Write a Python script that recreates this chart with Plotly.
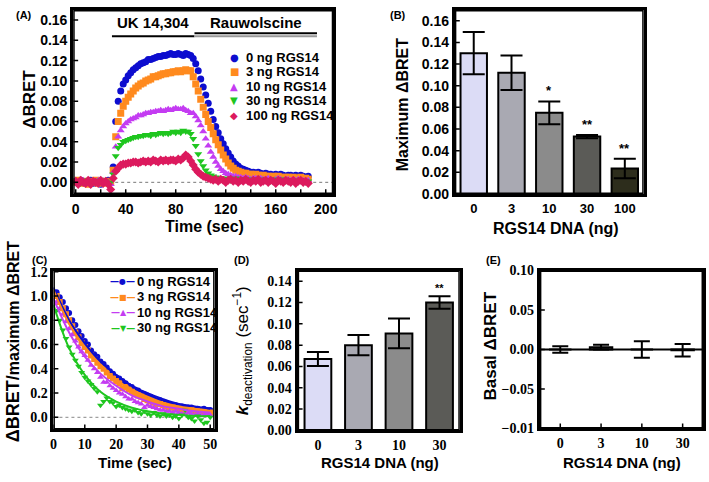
import plotly.graph_objects as go

W, H = 709, 482
def px(x):
    return x / W
def py(y):
    return 1 - y / H

SANS = "Liberation Sans, Arial, sans-serif"
SERIF = "Liberation Serif, Times New Roman, serif"
SYMF = "DejaVu Sans, sans-serif"

BLUE = "#0d0dcf"
ORANGE = "#ff8a1e"
PURPLE = "#c43cf2"
GREEN = "#1fc61f"
RED = "#dc1a5e"

# ---------------- Panel A : ΔBRET time course (every 2 s) ----------------
time_A = list(range(0, 188, 2))
a_0ng = [0.001,-0.001,0.002,0.000,-0.001,0.001,0.002,-0.001,0.000,0.001,-0.002,0.001,0.000,0.002,0.001,
         0.015,0.060,0.080,0.090,0.097,0.101,0.105,0.108,0.111,0.113,0.115,0.117,0.118,0.119,0.121,0.121,
         0.122,0.123,0.124,0.124,0.125,0.125,0.126,0.127,0.126,0.126,0.127,0.126,0.125,0.127,0.126,0.125,
         0.122,0.117,0.110,0.102,0.094,0.086,0.078,0.070,0.062,0.055,0.049,0.043,0.038,0.033,0.029,0.025,
         0.021,0.018,0.016,0.014,0.013,0.012,0.011,0.010,0.010,0.009,0.010,0.009,0.008,0.009,0.008,0.008,
         0.007,0.008,0.007,0.008,0.007,0.006,0.007,0.007,0.006,0.007,0.006,0.007,0.006,0.005,0.006]
a_3ng = [0.000,0.002,-0.001,0.001,0.000,-0.002,0.001,0.000,0.002,-0.001,0.001,0.000,-0.001,0.001,0.000,
         0.012,0.045,0.060,0.068,0.075,0.080,0.084,0.087,0.090,0.093,0.095,0.097,0.098,0.100,0.101,0.102,
         0.104,0.104,0.105,0.106,0.107,0.107,0.108,0.108,0.109,0.109,0.110,0.109,0.110,0.111,0.110,0.110,
         0.104,0.097,0.090,0.082,0.074,0.067,0.060,0.054,0.048,0.042,0.037,0.032,0.027,0.023,0.019,0.016,
         0.014,0.012,0.011,0.010,0.009,0.009,0.008,0.008,0.007,0.008,0.007,0.006,0.007,0.006,0.006,0.005,
         0.006,0.005,0.006,0.005,0.004,0.005,0.005,0.004,0.005,0.004,0.004,0.005,0.003,0.004,0.003]
a_10ng = [0.001,0.000,-0.001,0.002,0.000,0.001,-0.001,0.000,0.001,0.002,0.000,-0.001,0.001,0.000,-0.002,
          0.010,0.035,0.045,0.051,0.055,0.058,0.060,0.062,0.063,0.064,0.066,0.066,0.067,0.068,0.068,0.069,
          0.069,0.070,0.070,0.071,0.070,0.071,0.072,0.071,0.072,0.073,0.072,0.072,0.073,0.071,0.070,0.068,
          0.068,0.065,0.061,0.056,0.050,0.043,0.036,0.030,0.025,0.020,0.016,0.013,0.011,0.009,0.008,0.007,
          0.006,0.006,0.005,0.005,0.004,0.005,0.004,0.003,0.004,0.004,0.003,0.004,0.003,0.003,0.004,0.003,
          0.002,0.003,0.004,0.003,0.002,0.003,0.003,0.002,0.003,0.002,0.003,0.002,0.002,0.001,0.002]
a_30ng = [0.000,0.001,-0.001,0.002,0.001,0.000,-0.001,0.001,0.000,-0.001,0.002,0.000,0.001,-0.001,0.000,
          0.008,0.026,0.034,0.037,0.040,0.041,0.042,0.043,0.044,0.045,0.045,0.046,0.046,0.047,0.047,0.046,
          0.048,0.047,0.048,0.049,0.048,0.049,0.048,0.049,0.050,0.049,0.050,0.049,0.051,0.050,0.050,0.048,
          0.043,0.036,0.028,0.021,0.016,0.012,0.009,0.007,0.006,0.005,0.004,0.004,0.003,0.004,0.003,0.002,
          0.003,0.004,0.002,0.003,0.002,0.003,0.001,0.003,0.002,0.003,0.002,0.001,0.003,0.002,0.002,0.001,
          0.003,0.002,0.001,0.002,0.003,0.001,0.002,0.002,0.001,0.002,0.001,0.002,0.001,0.000,0.001]
a_100ng = [0.001,-0.002,0.002,0.000,-0.001,0.002,-0.002,0.001,0.000,-0.001,0.002,-0.001,0.001,-0.002,-0.007,
           0.004,0.011,0.014,0.017,0.018,0.018,0.019,0.019,0.020,0.020,0.019,0.020,0.021,0.020,0.021,0.020,
           0.022,0.021,0.020,0.022,0.021,0.022,0.021,0.022,0.022,0.021,0.023,0.022,0.024,0.027,0.025,0.021,
           0.017,0.013,0.010,0.008,0.006,0.005,0.004,0.003,0.002,0.003,0.001,0.003,0.002,0.000,0.002,0.003,
           0.001,0.002,0.000,0.002,0.001,0.003,0.001,0.000,0.002,0.001,0.003,0.000,0.001,0.002,0.000,0.002,
           0.001,-0.001,0.002,0.001,0.000,0.002,0.001,0.000,0.002,-0.001,0.001,0.002,0.000,0.001,-0.001]
names_A = ["0 ng RGS14", "3 ng RGS14", "10 ng RGS14", "30 ng RGS14", "100 ng RGS14"]
labels_A_x = [0, 40, 80, 120, 160, 200]
ticks_A_x = [0, 20, 40, 60, 80, 100, 120, 140, 160, 180, 200]
ticks_A_y = [0, 0.02, 0.04, 0.06, 0.08, 0.10, 0.12, 0.14, 0.16]
treat_labels = ["UK 14,304", "Rauwolscine"]
treat_start = [29, 95]
treat_end = [95, 193]
treat_level = 0.144

# ---------------- Panel B : maximum ΔBRET ----------------
dna_B = ["0", "3", "10", "30", "100"]
max_bret = [0.130, 0.112, 0.075, 0.053, 0.0235]
max_bret_err = [0.0195, 0.016, 0.0105, 0.0015, 0.009]
sig_B = ["", "", "*", "**", "**"]
ticks_B_y = [0, 0.02, 0.04, 0.06, 0.08, 0.10, 0.12, 0.14, 0.16]

# ---------------- Panel C : normalized deactivation ----------------
time_C = list(range(1, 51))
c_0ng = [1.03,0.99,0.95,0.90,0.86,0.80,0.76,0.71,0.67,0.63,0.60,0.55,0.52,0.50,0.46,0.44,0.41,0.38,0.36,0.33,
         0.32,0.30,0.28,0.26,0.25,0.23,0.22,0.20,0.19,0.18,0.17,0.15,0.14,0.14,0.12,0.12,0.11,0.10,0.10,0.09,
         0.09,0.08,0.08,0.08,0.07,0.07,0.06,0.07,0.06,0.06]
c_3ng = [1.00,0.95,0.90,0.85,0.80,0.75,0.70,0.66,0.61,0.58,0.55,0.51,0.48,0.45,0.42,0.40,0.37,0.34,0.32,0.30,
         0.28,0.24,0.25,0.23,0.21,0.19,0.18,0.17,0.15,0.14,0.13,0.12,0.11,0.11,0.10,0.09,0.08,0.08,0.07,0.07,
         0.06,0.06,0.05,0.06,0.05,0.05,0.04,0.05,0.04,0.04]
c_10ng = [0.95,0.90,0.85,0.79,0.73,0.68,0.63,0.58,0.54,0.51,0.47,0.43,0.40,0.37,0.33,0.29,0.29,0.26,0.24,0.22,
          0.20,0.19,0.17,0.15,0.15,0.13,0.12,0.11,0.08,0.10,0.09,0.08,0.07,0.06,0.06,0.05,0.05,0.04,0.05,0.04,
          0.03,0.03,0.04,0.03,0.02,0.03,0.02,0.02,0.03,0.02]
c_30ng = [0.88,0.80,0.72,0.65,0.58,0.52,0.47,0.42,0.37,0.33,0.30,0.27,0.24,0.21,0.10,0.13,0.16,0.13,0.12,0.09,
          0.10,0.08,0.07,0.06,0.05,0.06,0.04,0.03,0.05,0.03,0.02,0.04,0.02,0.01,0.03,0.01,0.02,0.00,0.01,-0.01,
          0.02,0.06,0.00,-0.01,-0.03,0.01,-0.02,-0.05,-0.04,0.00]
time_fit = [0, 5, 10, 15, 20, 25, 30, 35, 40, 45, 50]
fit_0ng = [1.07, 0.80, 0.61, 0.46, 0.35, 0.26, 0.20, 0.15, 0.11, 0.09, 0.07]
fit_3ng = [1.05, 0.77, 0.57, 0.42, 0.31, 0.23, 0.17, 0.12, 0.09, 0.07, 0.05]
fit_10ng = [0.98, 0.70, 0.50, 0.36, 0.26, 0.18, 0.13, 0.09, 0.07, 0.05, 0.04]
fit_30ng = [0.93, 0.57, 0.35, 0.21, 0.13, 0.08, 0.05, 0.03, 0.02, 0.01, 0.01]
names_C = ["0 ng RGS14", "3 ng RGS14", "10 ng RGS14", "30 ng RGS14"]
ticks_C_x = [0, 10, 20, 30, 40, 50]
ticks_C_y = [0, 0.2, 0.4, 0.6, 0.8, 1.0, 1.2]

# ---------------- Panel D : k deactivation ----------------
dna_D = ["0", "3", "10", "30"]
k_deact = [0.067, 0.080, 0.091, 0.120]
k_deact_err = [0.0065, 0.0095, 0.014, 0.0058]
sig_D = ["", "", "", "**"]
ticks_D_y = [0, 0.02, 0.04, 0.06, 0.08, 0.10, 0.12, 0.14]

# ---------------- Panel E : basal ΔBRET ----------------
dna_E = ["0", "3", "10", "30"]
basal = [0.000, 0.003, 0.000, -0.001]
basal_err = [0.004, 0.003, 0.0105, 0.008]
ticks_E_y = [0.10, 0.05, 0.00, -0.05, -0.10]
ticktext_E_y = ["0.10", "0.05", "0.00", "\u22120.05", "\u22120.01"]

bar_colors = ["#dcdcf6", "#a9a9b2", "#8b8b8b", "#5b5b57", "#2d2d1c"]

# panel boxes in page pixels (left, right, top, bottom) and axis ranges
box_A = (70, 333, 3, 193)
box_B = (456, 647, 3, 193)
box_C = (50, 213, 272, 436)
box_D = (297, 461, 272, 437)
box_E = (542, 707, 272, 435)
xr_A, yr_A = [-2, 206], [-0.0115, 0.17]
xr_B, yr_B = [-0.5, 4.5], [0, 0.17]
xr_C, yr_C = [0, 51.4], [-0.1, 1.21]
xr_D, yr_D = [-0.5, 3.5], [0, 0.15]
xr_E, yr_E = [-0.5, 3.5], [-0.1, 0.1]

fig = go.Figure()

colors_A = [BLUE, ORANGE, PURPLE, GREEN, RED]
symbols_A = ["circle", "square", "triangle-up", "triangle-down", "diamond"]
glyphs_A = ["\u25cf", "\u25a0", "\u25b2", "\u25bc", "\u25c6"]
for nm, vals, sym, col in zip(names_A, [a_0ng, a_3ng, a_10ng, a_30ng, a_100ng], symbols_A, colors_A):
    fig.add_trace(go.Scatter(x=time_A, y=vals, mode="markers", name=nm, showlegend=False,
                             marker=dict(symbol=sym, size=7, color=col, line=dict(width=0)),
                             xaxis="x", yaxis="y"))

fig.add_trace(go.Bar(x=list(range(len(dna_B))), y=max_bret, width=0.7,
                     marker=dict(color=bar_colors, line=dict(color="black", width=2)),
                     error_y=dict(type="data", array=max_bret_err, color="black", thickness=2, width=11),
                     xaxis="x2", yaxis="y2", showlegend=False))

colors_C = [BLUE, ORANGE, PURPLE, GREEN]
symbols_C = ["circle", "square", "triangle-up", "triangle-down"]
glyphs_C = ["\u25cf", "\u25a0", "\u25b2", "\u25bc"]
for nm, pts, sym, col in zip(names_C, [c_0ng, c_3ng, c_10ng, c_30ng], symbols_C, colors_C):
    fig.add_trace(go.Scatter(x=time_C, y=pts, mode="markers", name=nm, showlegend=False,
                             marker=dict(symbol=sym, size=6, color=col, line=dict(width=0)),
                             xaxis="x3", yaxis="y3"))
for nm, fit, col in zip(names_C, [fit_0ng, fit_3ng, fit_10ng, fit_30ng], colors_C):
    fig.add_trace(go.Scatter(x=time_fit, y=fit, mode="lines", name=nm + " fit", showlegend=False,
                             line=dict(color=col, width=2, shape="spline"),
                             xaxis="x3", yaxis="y3"))

fig.add_trace(go.Bar(x=list(range(len(dna_D))), y=k_deact, width=0.66,
                     marker=dict(color=bar_colors[:4], line=dict(color="black", width=2)),
                     error_y=dict(type="data", array=k_deact_err, color="black", thickness=2, width=11),
                     xaxis="x4", yaxis="y4", showlegend=False))

fig.add_trace(go.Bar(x=list(range(len(dna_E))), y=basal, width=0.55,
                     marker=dict(color=bar_colors[:4], line=dict(color="black", width=2)),
                     error_y=dict(type="data", array=basal_err, color="black", thickness=2, width=8),
                     xaxis="x5", yaxis="y5", showlegend=False))

# frames and inside tick marks drawn as line traces derived from the axis ranges and tick lists
def frame_and_ticks(xa, ya, box, xr, yr, xt, yt):
    dx = 5 * (xr[1] - xr[0]) / (box[1] - box[0])
    dy = 5 * (yr[1] - yr[0]) / (box[3] - box[2])
    tx, ty = [], []
    for v in yt:
        tx += [xr[0], xr[0] + dx, None]
        ty += [v, v, None]
    for v in xt:
        tx += [v, v, None]
        ty += [yr[0], yr[0] + dy, None]
    if tx:
        fig.add_trace(go.Scatter(x=tx, y=ty, mode="lines", line=dict(color="black", width=1.5),
                                 hoverinfo="skip", showlegend=False, cliponaxis=False,
                                 xaxis=xa, yaxis=ya))
    fig.add_trace(go.Scatter(x=[xr[0], xr[1], xr[1], xr[0], xr[0]],
                             y=[yr[0], yr[0], yr[1], yr[1], yr[0]],
                             mode="lines", line=dict(color="black", width=3),
                             hoverinfo="skip", showlegend=False, cliponaxis=False,
                             xaxis=xa, yaxis=ya))

frame_and_ticks("x", "y", box_A, xr_A, yr_A, ticks_A_x, ticks_A_y)
frame_and_ticks("x2", "y2", box_B, xr_B, yr_B, [], ticks_B_y)
frame_and_ticks("x3", "y3", box_C, xr_C, yr_C, ticks_C_x, ticks_C_y)
frame_and_ticks("x4", "y4", box_D, xr_D, yr_D, [], ticks_D_y)
frame_and_ticks("x5", "y5", box_E, xr_E, yr_E, list(range(len(dna_E))), ticks_E_y)

def axis(**kw):
    base = dict(showline=True, linecolor="#000000", linewidth=3, mirror=True, showgrid=False,
                zeroline=False, ticks="", ticklen=5, tickwidth=2, tickcolor="#000000")
    base.update(kw)
    return base

tf_sans = dict(family=SANS, size=14, color="black", weight="bold")
tf_sans_small = dict(family=SANS, size=13, color="black", weight="bold")
tf_serif = dict(family=SERIF, size=14, color="black", weight="bold")

def dom_x(b):
    return [px(b[0]), px(b[1])]
def dom_y(b):
    return [py(b[3]), py(b[2])]

fig.update_layout(
    width=W, height=H, margin=dict(l=0, r=0, t=0, b=0),
    paper_bgcolor="white", plot_bgcolor="white",
    font=dict(family=SANS, color="black"),
    showlegend=False,
    xaxis=axis(domain=dom_x(box_A), anchor="y", range=xr_A, tickvals=labels_A_x, tickfont=tf_sans),
    yaxis=axis(domain=dom_y(box_A), anchor="x", range=yr_A,
               tickvals=ticks_A_y, tickformat=".2f", tickfont=tf_sans),
    xaxis2=axis(domain=dom_x(box_B), anchor="y2", tickfont=tf_sans_small,
                range=xr_B, tickvals=list(range(len(dna_B))), ticktext=dna_B),
    yaxis2=axis(domain=dom_y(box_B), anchor="x2", range=yr_B,
                tickvals=ticks_B_y, tickformat=".2f", tickfont=tf_sans),
    xaxis3=axis(domain=dom_x(box_C), anchor="y3", range=xr_C, tickvals=ticks_C_x, tickfont=tf_serif),
    yaxis3=axis(domain=dom_y(box_C), anchor="x3", range=yr_C,
                tickvals=ticks_C_y, tickformat=".1f", tickfont=tf_serif),
    xaxis4=axis(domain=dom_x(box_D), anchor="y4", tickfont=tf_serif,
                range=xr_D, tickvals=list(range(len(dna_D))), ticktext=dna_D),
    yaxis4=axis(domain=dom_y(box_D), anchor="x4", range=yr_D,
                tickvals=ticks_D_y, tickformat=".2f", tickfont=tf_serif),
    xaxis5=axis(domain=dom_x(box_E), anchor="y5", tickfont=tf_serif, range=xr_E,
                tickvals=list(range(len(dna_E))), ticktext=dna_E),
    yaxis5=axis(domain=dom_y(box_E), anchor="x5", range=yr_E,
                tickvals=ticks_E_y, ticktext=ticktext_E_y, tickfont=tf_serif),
)

shapes = []
shapes.append(dict(type="line", xref="x domain", yref="y", x0=0, x1=1, y0=0, y1=0,
                   line=dict(color="#777777", width=1, dash="dot"), layer="below"))
shapes.append(dict(type="line", xref="x3 domain", yref="y3", x0=0, x1=1, y0=0, y1=0,
                   line=dict(color="#888888", width=1, dash="dot"), layer="below"))
shapes.append(dict(type="line", xref="x5 domain", yref="y5", x0=0, x1=1, y0=0, y1=0,
                   line=dict(color="black", width=2)))
shapes.append(dict(type="line", xref="x", yref="y", x0=treat_start[0], x1=treat_end[0],
                   y0=treat_level, y1=treat_level, line=dict(color="black", width=2)))
shapes.append(dict(type="line", xref="x", yref="y", x0=treat_start[1], x1=treat_end[1],
                   y0=treat_level + 0.003, y1=treat_level + 0.003, line=dict(color="black", width=2)))
shapes.append(dict(type="line", xref="x", yref="y", x0=treat_start[1], x1=treat_end[1],
                   y0=treat_level, y1=treat_level, line=dict(color="#999999", width=2)))
fig.update_layout(shapes=shapes)

ann = []
def paper_text(text, x, y, size, angle=0, weight="bold", family=SANS, xanchor="center", color="black"):
    ann.append(dict(text=text, x=px(x), y=py(y), xref="paper", yref="paper", showarrow=False,
                    xanchor=xanchor, yanchor="middle", textangle=angle,
                    font=dict(family=family, size=size, color=color, weight=weight)))

for lab, s, e in zip(treat_labels, treat_start, treat_end):
    ann.append(dict(text=lab, x=(s + e) / 2, y=treat_level + 0.003, xref="x", yref="y",
                    showarrow=False, yanchor="bottom",
                    font=dict(family=SANS, size=15, color="black", weight="bold")))

for i, (v, e, s) in enumerate(zip(max_bret, max_bret_err, sig_B)):
    if s:
        ann.append(dict(text=s, x=i, y=v + e, xref="x2", yref="y2", showarrow=False,
                        yanchor="bottom", yshift=1,
                        font=dict(family=SANS, size=13, color="black", weight="bold")))
for i, (v, e, s) in enumerate(zip(k_deact, k_deact_err, sig_D)):
    if s:
        ann.append(dict(text=s, x=i, y=v + e, xref="x4", yref="y4", showarrow=False,
                        yanchor="bottom", yshift=0,
                        font=dict(family=SANS, size=11, color="black", weight="bold")))

legA_rows = [52, 67, 82, 97, 112]
for nm, g, col, yy in zip(names_A, glyphs_A, colors_A, legA_rows):
    paper_text(g, 233, yy, 10, weight="normal", family=SYMF, color=col)
    paper_text(nm, 243, yy, 13, xanchor="left")
legC_rows = [283, 299, 315, 331]
for nm, g, col, yy in zip(names_C, glyphs_C, colors_C, legC_rows):
    paper_text("<span style='font-size:9px'>\u2014</span>" + g + "<span style='font-size:9px'>\u2014</span>",
               120, yy, 8, weight="bold", family=SYMF, color=col)
    paper_text(nm, 132, yy, 13, xanchor="left")

paper_text("(A)", 20, 8, 11)
paper_text("(B)", 399, 8, 11)
paper_text("(C)", 36, 261, 11)
paper_text("(D)", 241, 261, 11)
paper_text("(E)", 495, 261, 11)

paper_text("\u0394BRET", 25, 95, 17, -90)
paper_text("Time (sec)", 203, 227, 16)
paper_text("Maximum \u0394BRET", 403, 100, 16, -90)
paper_text("RGS14 DNA (ng)", 558, 229, 16)
paper_text("\u0394BRET/<span style='font-size:16px'>maximum \u0394BRET</span>", 9, 345, 18, -90)
paper_text("Time (sec)", 132, 470, 15)
paper_text("<b><i>k</i></b><sub>deactivation</sub> (sec<sup>\u22121</sup>)", 242, 355, 17, -90,
           weight="normal")
paper_text("RGS14 DNA (ng)", 380, 470, 15)
paper_text("Basal \u0394BRET", 492, 350, 17, -90)
paper_text("RGS14 DNA (ng)", 625, 470, 15)

fig.update_layout(annotations=ann)

fig.write_html("out.html", config={"displayModeBar": False},
               post_script="document.body.style.margin='0';document.body.style.overflow='hidden';")
